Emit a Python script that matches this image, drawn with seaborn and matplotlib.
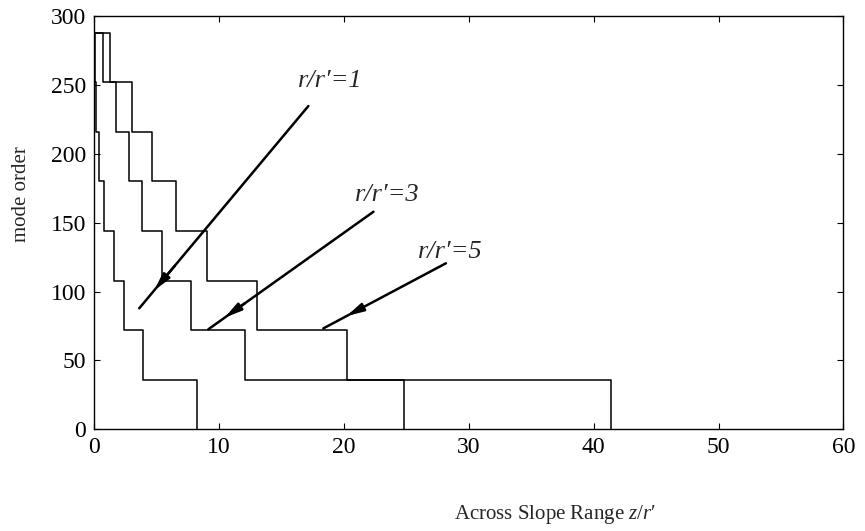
import matplotlib
matplotlib.use('Agg')
import matplotlib.pyplot as plt
import seaborn as sns
import pandas as pd

# mode order levels (staircase), same for all three curves
levels = [288, 252, 216, 180, 144, 108, 72, 36, 0]

# across-slope range z/r' where each level starts
z_r1 = [0, 0.02, 0.1, 0.4, 0.8, 1.55, 2.35, 3.9, 8.2]
z_r3 = [0, 0.67, 1.75, 2.75, 3.85, 5.4, 7.75, 12.1, 24.8]
z_r5 = [0, 1.26, 3.0, 4.65, 6.55, 9.0, 13.0, 20.25, 41.4]

ratios = ["r/r\u2032=1", "r/r\u2032=3", "r/r\u2032=5"]

rows = []
for name, zs in zip(ratios, [z_r1, z_r3, z_r5]):
    for z, m in zip(zs, levels):
        rows.append({'ratio': name, 'z': z, 'mode': m})
df = pd.DataFrame(rows)

sns.set_style('ticks')
plt.rcParams['font.family'] = ['Liberation Serif', 'DejaVu Serif']
plt.rcParams['mathtext.fontset'] = 'custom'
plt.rcParams['mathtext.rm'] = 'Liberation Serif'
plt.rcParams['mathtext.it'] = 'Liberation Serif:italic'

fig = plt.figure(figsize=(8.65, 5.31), dpi=100)
ax = fig.add_axes([0.109, 0.192, 0.866, 0.777])

sns.lineplot(data=df, x='z', y='mode', hue='ratio', palette=['black'] * 3,
             drawstyle='steps-post', sort=False, estimator=None,
             legend=False, lw=1.1, ax=ax)

# label text position, arrow start, arrow end, where the head sits (fraction)
notes = [
    (ratios[0], (16.3, 253), (17.15, 234.9), (3.6, 87.8), 0.91),
    (ratios[1], (20.9, 170), (22.36, 158.0), (9.13, 72.5), 0.90),
    (ratios[2], (25.9, 129), (28.16, 120.5), (18.35, 73.2), 0.81),
]
for label, tpos, start, end, t in notes:
    ax.plot([start[0], end[0]], [start[1], end[1]], color='black', lw=1.8)
    tip = (start[0] + t * (end[0] - start[0]), start[1] + t * (end[1] - start[1]))
    back = (start[0] + (t - 0.12) * (end[0] - start[0]),
            start[1] + (t - 0.12) * (end[1] - start[1]))
    ax.annotate('', xy=tip, xytext=back,
                arrowprops=dict(arrowstyle='-|>,head_length=1.0,head_width=0.25',
                                color='black', lw=1.8, shrinkA=0, shrinkB=0))
    ax.text(tpos[0], tpos[1], label, fontsize=19, style='italic',
            ha='left', va='center')

ax.set_xlim(0, 60)
ax.set_ylim(0, 300)
ax.set_xticks(range(0, 61, 10))
ax.set_yticks(range(0, 301, 50))
ax.tick_params(direction='in', length=4, width=0.8, labelsize=17,
               top=True, right=True, colors='black', pad=6)
for s in ax.spines.values():
    s.set_color('black')
    s.set_linewidth(1.0)

ax.set_ylabel('mode order', fontsize=15)
ax.set_xlabel("Across Slope Range $z/r$\u2032", fontsize=15)
ax.yaxis.set_label_coords(-0.085, 0.57)
ax.xaxis.set_label_coords(0.615, -0.18)

fig.savefig('out.png', dpi=100)
